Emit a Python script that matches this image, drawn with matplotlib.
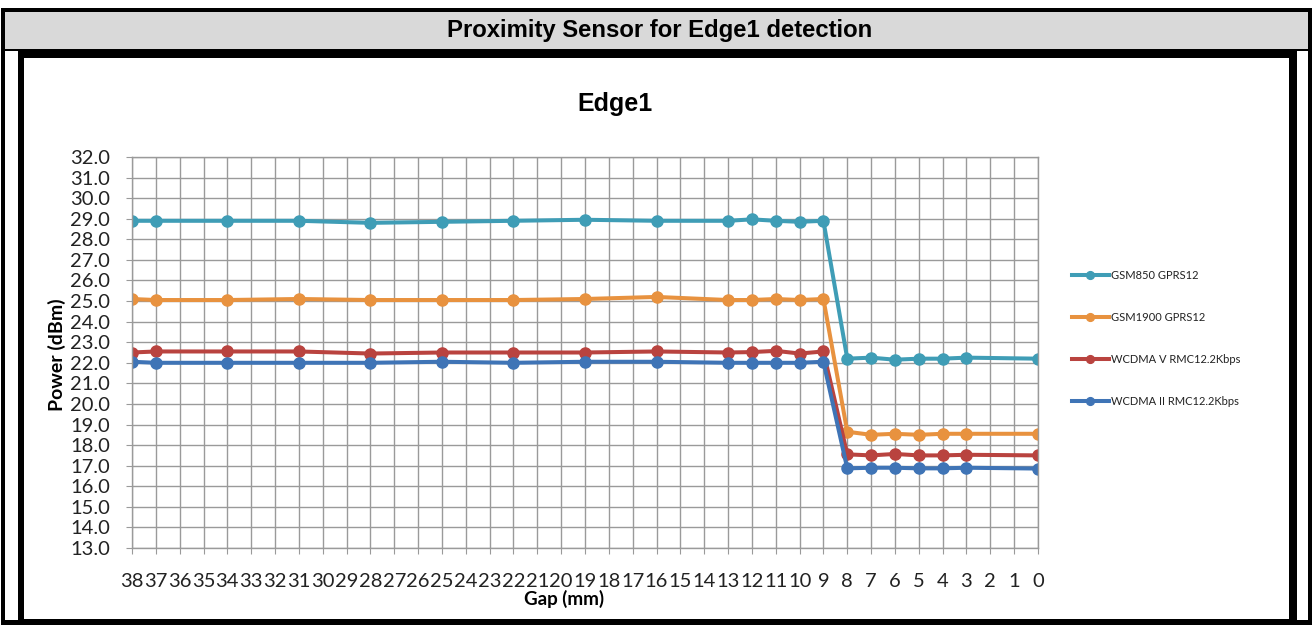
import matplotlib
matplotlib.use("Agg")
import matplotlib.pyplot as plt
from matplotlib.patches import Rectangle

# x categories shown on the axis (reversed gap order)
categories = list(range(38, -1, -1))
gaps = [38, 37, 34, 31, 28, 25, 22, 19, 16, 13, 12, 11, 10, 9, 8, 7, 6, 5, 4, 3, 0]

gsm850 = [28.9, 28.9, 28.9, 28.9, 28.8, 28.85, 28.9, 28.95, 28.9, 28.9, 28.97, 28.9, 28.85, 28.9,
          22.2, 22.25, 22.15, 22.2, 22.2, 22.25, 22.2]
gsm1900 = [25.1, 25.05, 25.05, 25.1, 25.05, 25.05, 25.05, 25.1, 25.2, 25.05, 25.05, 25.1, 25.05, 25.1,
           18.65, 18.5, 18.55, 18.5, 18.55, 18.55, 18.55]
wcdma_v = [22.5, 22.55, 22.55, 22.55, 22.45, 22.5, 22.5, 22.5, 22.55, 22.5, 22.52, 22.58, 22.45, 22.55,
           17.55, 17.5, 17.57, 17.5, 17.5, 17.53, 17.5]
wcdma_ii = [22.05, 22.0, 22.0, 22.0, 22.0, 22.05, 22.0, 22.05, 22.05, 22.0, 22.0, 22.0, 22.0, 22.05,
            16.87, 16.9, 16.9, 16.87, 16.87, 16.9, 16.86]

series = [
    ("GSM850 GPRS12", gsm850, "#3f9db6"),
    ("GSM1900 GPRS12", gsm1900, "#e8923f"),
    ("WCDMA V RMC12.2Kbps", wcdma_v, "#b9433f"),
    ("WCDMA II RMC12.2Kbps", wcdma_ii, "#3f74b6"),
]

W, H = 1312, 625
fig = plt.figure(figsize=(W / 100, H / 100), dpi=100)
fig.patch.set_facecolor("white")


def box(x0, y0, x1, y1, color):
    # pixel coords, origin top-left
    r = Rectangle((x0 / W, 1 - y1 / H), (x1 - x0) / W, (y1 - y0) / H,
                  transform=fig.transFigure, facecolor=color, edgecolor="none", zorder=-10)
    fig.add_artist(r)


# table frame
box(1, 8, 1312, 625, "black")
box(5, 12, 1308, 620, "white")
box(5, 12, 1308, 49, "#d9d9d9")
box(5, 49, 1308, 51, "black")
box(18, 50, 1297, 623, "black")
box(24, 58, 1289, 619, "white")

arial = ["Liberation Sans", "DejaVu Sans"]
body = ["Lato", "DejaVu Sans"]

fig.text(660 / W, 1 - 30 / H, "Proximity Sensor for Edge1 detection", ha="center", va="center",
         fontsize=17.2, fontweight="bold", family=arial)

ax = fig.add_axes([132 / W, 1 - 548 / H, (1038 - 132) / W, (548 - 157) / H])
ax.set_facecolor("white")

xpos = [38 - g for g in gaps]
for name, vals, col in series:
    ax.plot(xpos, vals, color=col, lw=2.9, marker="o", ms=8, label=name)

ax.set_xlim(0, 38)
ax.set_ylim(13, 32)
ax.set_xticks(range(39))
ax.set_xticklabels([str(c) for c in categories])
ax.set_yticks(range(13, 33))
ax.set_yticklabels([f"{v:.1f}" for v in range(13, 33)])
ax.grid(True, color="#9a9a9a", lw=1.0)
ax.set_axisbelow(True)
for s in ax.spines.values():
    s.set_color("#9a9a9a")
    s.set_linewidth(1.0)
ax.tick_params(axis="both", length=4, color="#9a9a9a", labelsize=14.5, labelcolor="#222222")
ax.tick_params(axis="y", pad=12)
ax.tick_params(axis="x", pad=14)
for lab in ax.get_xticklabels() + ax.get_yticklabels():
    lab.set_family(body)

fig.text(615 / W, 1 - 104 / H, "Edge1", ha="center", va="center",
         fontsize=18, fontweight="bold", family=arial)
fig.text(564 / W, 1 - 599 / H, "Gap (mm)", ha="center", va="center",
         fontsize=13.5, fontweight="bold", family=body)
fig.text(57 / W, 1 - 355 / H, "Power (dBm)", ha="center", va="center", rotation=90,
         fontsize=14, fontweight="bold", family=body)

leg = ax.legend(loc="upper left", bbox_to_anchor=(1062 / W, 1 - 260 / H),
                bbox_transform=fig.transFigure, frameon=False,
                handlelength=3.3, handletextpad=0.2, labelspacing=2.8, markerscale=0.7,
                prop={"family": body, "size": 8})
for t in leg.get_texts():
    t.set_color("#222222")

fig.savefig("out.png", dpi=100)
